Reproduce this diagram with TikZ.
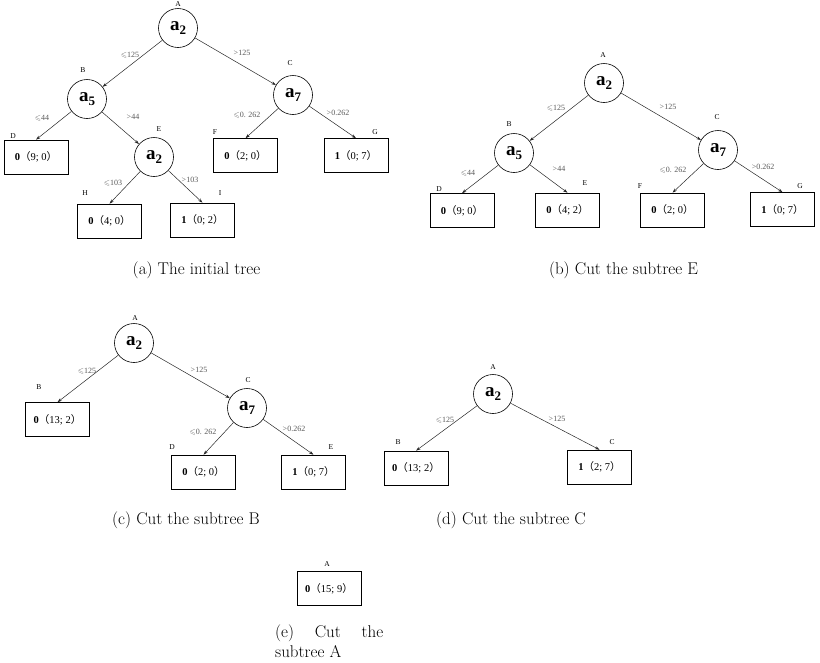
\documentclass[tikz,border=0pt]{standalone}
\usepackage{amsmath,amssymb}
\usepackage{fontspec}
\newfontfamily\treefont{Liberation Serif}
\newfontfamily\cjk{Noto Sans CJK SC}
\usepackage{tikz}
\usetikzlibrary{arrows.meta,positioning}

\newcommand\attr[1]{a\raisebox{-0.25em}{\fontsize{13}{13}\selectfont #1}}
\newcommand\leafval[3]{\textbf{#1}{\cjk （}#2; #3{\cjk ）}}

\begin{document}
\begin{tikzpicture}[
  x=1pt, y=-1pt,
  split/.style={circle, draw, line width=0.6pt, minimum size=39pt, inner sep=0pt,
                font=\treefont\fontsize{19}{19}\selectfont\bfseries},
  leafbox/.style={rectangle, draw, line width=0.6pt, minimum width=64pt,
                  minimum height=34pt, inner sep=0pt, font=\treefont\fontsize{10.5}{12}\selectfont},
  tag/.style={font=\treefont\fontsize{7.5}{8}\selectfont, inner sep=0pt},
  cond/.style={font=\treefont\fontsize{8}{9}\selectfont, text=black!65, inner sep=0pt},
  arr/.style={-{Stealth[length=4.5pt,width=3pt]}, line width=0.5pt, black!85},
  subcap/.style={font=\fontsize{17}{20}\selectfont, inner sep=0pt},
]
\useasboundingbox (0,0) rectangle (820,662);

% (a) the initial tree
\node[split] (aA) at (178,28) {\attr{2}};
\node[split] (aB) at (87,99) {\attr{5}};
\node[split] (aC) at (293,95) {\attr{7}};
\node[split] (aE) at (154,157) {\attr{2}};
\node[leafbox] (aD) at (36,157) {\leafval{0}{9}{0}};
\node[leafbox] (aF) at (245.5,155.5) {\leafval{0}{2}{0}};
\node[leafbox] (aG) at (356,155.5) {\leafval{1}{0}{7}};
\node[leafbox] (aH) at (109.5,221) {\leafval{0}{4}{0}};
\node[leafbox] (aI) at (202.5,220) {\leafval{1}{0}{2}};

\node[tag] (aAt) at (178,4) {A};
\node[tag] (aBt) at (83,70) {B};
\node[tag] (aCt) at (290,63) {C};
\node[tag] (aDt) at (13,136) {D};
\node[tag] (aEt) at (159,129) {E};
\node[tag] (aFt) at (215,132) {F};
\node[tag] (aGt) at (375,132) {G};
\node[tag] (aHt) at (85,193) {H};
\node[tag] (aIt) at (220,193) {I};

\draw[arr] (aA) -- (aB);
\draw[arr] (aA) -- (aC);
\draw[arr] (aB) -- (aD.north);
\draw[arr] (aB) -- (aE);
\draw[arr] (aC) -- (aF.north);
\draw[arr] (aC) -- (aG.north);
\draw[arr] (aE) -- (aH.north);
\draw[arr] (aE) -- (aI.north);

\node[cond] (aAB) at (130,55) {$\leqslant$125};
\node[cond] (aAC) at (242,53) {>125};
\node[cond] (aBD) at (42,118) {$\leqslant$44};
\node[cond] (aBE) at (133,117) {>44};
\node[cond] (aCF) at (247,115) {$\leqslant$0. 262};
\node[cond] (aCG) at (338,113) {>0.262};
\node[cond] (aEH) at (113,183) {$\leqslant$103};
\node[cond] (aEI) at (190,180) {>103};

\node[subcap] (capa) at (196.5,270) {(a) The initial tree};

% (b) cut the subtree E
\node[split] (bA) at (604,83) {\attr{2}};
\node[split] (bB) at (514,153) {\attr{5}};
\node[split] (bC) at (718,150) {\attr{7}};
\node[leafbox] (bD) at (462,210.5) {\leafval{0}{9}{0}};
\node[leafbox] (bE) at (567.5,210) {\leafval{0}{4}{2}};
\node[leafbox] (bF) at (672.5,210) {\leafval{0}{2}{0}};
\node[leafbox] (bG) at (782.5,209.5) {\leafval{1}{0}{7}};

\node[tag] (bAt) at (603,55) {A};
\node[tag] (bBt) at (509,124) {B};
\node[tag] (bCt) at (717,117) {C};
\node[tag] (bDt) at (439,189) {D};
\node[tag] (bEt) at (585,183) {E};
\node[tag] (bFt) at (640,186) {F};
\node[tag] (bGt) at (800,186) {G};

\draw[arr] (bA) -- (bB);
\draw[arr] (bA) -- (bC);
\draw[arr] (bB) -- (bD.north);
\draw[arr] (bB) -- (bE.north);
\draw[arr] (bC) -- (bF.north);
\draw[arr] (bC) -- (bG.north);

\node[cond] (bAB) at (556,108) {$\leqslant$125};
\node[cond] (bAC) at (668,107) {>125};
\node[cond] (bBD) at (468,173) {$\leqslant$44};
\node[cond] (bBE) at (559,169) {>44};
\node[cond] (bCF) at (673,170) {$\leqslant$0. 262};
\node[cond] (bCG) at (763,167) {>0.262};

\node[subcap] (capb) at (623.5,270) {(b) Cut the subtree E};

% (c) cut the subtree B
\node[split] (cA) at (134,343) {\attr{2}};
\node[split] (cC) at (247,408) {\attr{7}};
\node[leafbox] (cB) at (57.5,419.5) {\leafval{0}{13}{2}};
\node[leafbox] (cD) at (203.5,472) {\leafval{0}{2}{0}};
\node[leafbox] (cE) at (313.5,472) {\leafval{1}{0}{7}};

\node[tag] (cAt) at (135,318) {A};
\node[tag] (cBt) at (39,387) {B};
\node[tag] (cCt) at (248,380) {C};
\node[tag] (cDt) at (172,447) {D};
\node[tag] (cEt) at (331,447) {E};

\draw[arr] (cA) -- (cB.north);
\draw[arr] (cA) -- (cC);
\draw[arr] (cC) -- (cD.north);
\draw[arr] (cC) -- (cE.north);

\node[cond] (cAB) at (87,371) {$\leqslant$125};
\node[cond] (cAC) at (199,370) {>125};
\node[cond] (cCD) at (203,432) {$\leqslant$0. 262};
\node[cond] (cCE) at (294,429) {>0.262};

\node[subcap] (capc) at (186,520) {(c) Cut the subtree B};

% (d) cut the subtree C
\node[split] (dA) at (493,394) {\attr{2}};
\node[leafbox] (dB) at (416,468) {\leafval{0}{13}{2}};
\node[leafbox] (dC) at (599.5,467) {\leafval{1}{2}{7}};

\node[tag] (dAt) at (493,367) {A};
\node[tag] (dBt) at (398,442) {B};
\node[tag] (dCt) at (612,442) {C};

\draw[arr] (dA) -- (dB.north);
\draw[arr] (dA) -- (dC.north);

\node[cond] (dAB) at (445,420) {$\leqslant$125};
\node[cond] (dAC) at (557,419) {>125};

\node[subcap] (capd) at (511,520) {(d) Cut the subtree C};

% (e) cut the subtree A
\node[leafbox] (eA) at (329,588.5) {\leafval{0}{15}{9}};
\node[tag] (eAt) at (327,564) {A};

\node[subcap, anchor=north west, text width=108pt, align=justify] (cape) at (275,625)
  {(e) Cut the \mbox{subtree} A};

\end{tikzpicture}
\end{document}
